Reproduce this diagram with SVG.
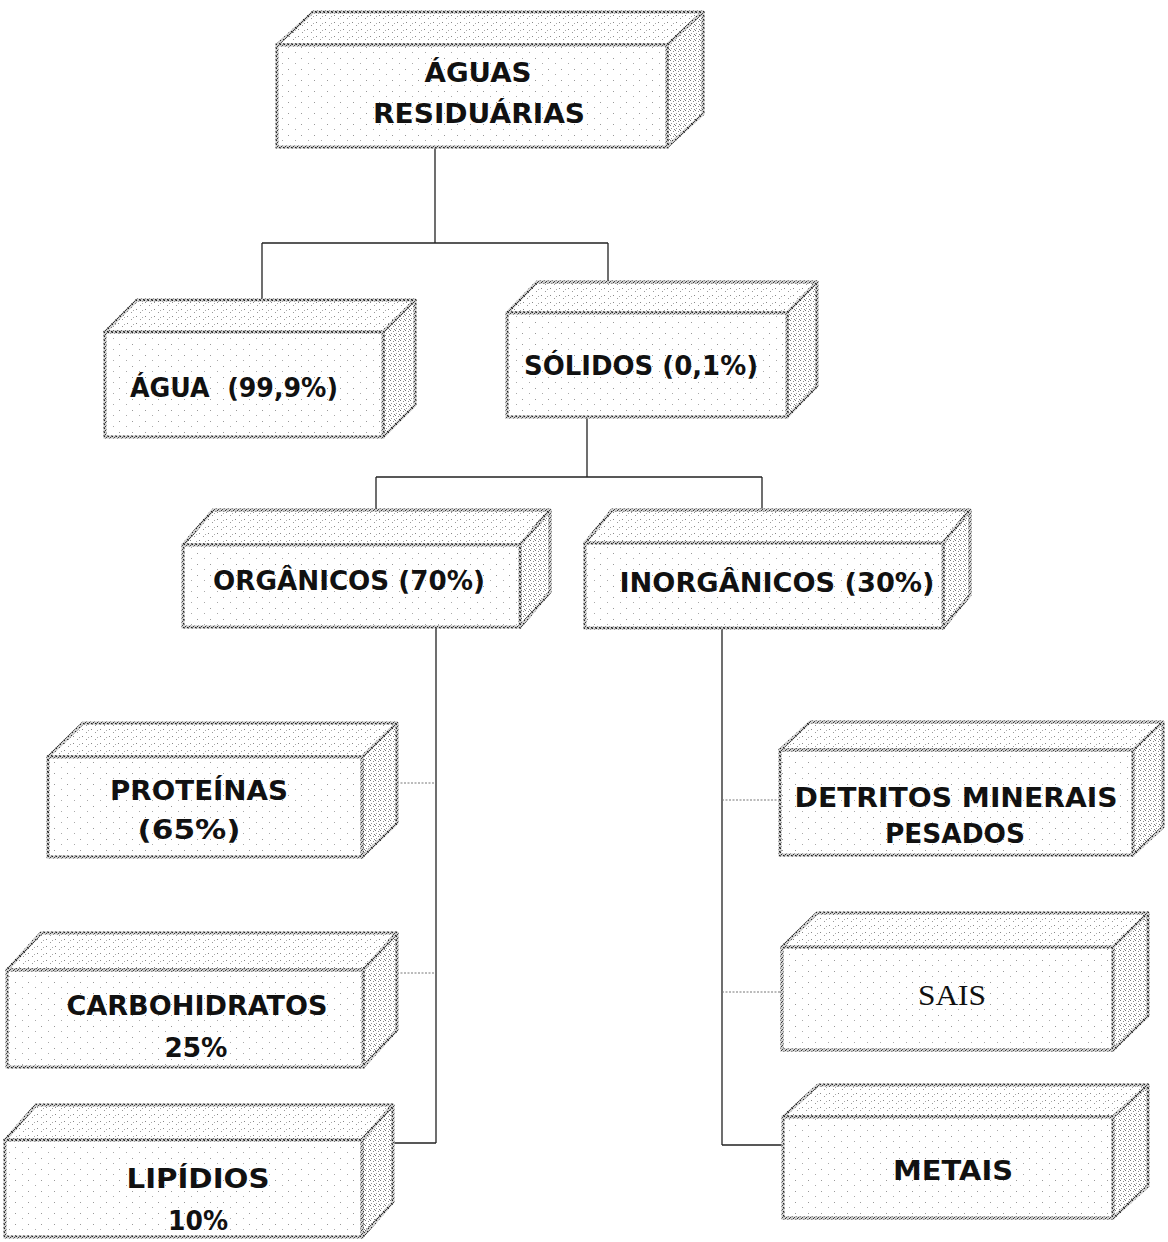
<svg xmlns="http://www.w3.org/2000/svg" width="1168" height="1242" viewBox="0 0 1168 1242">
<style>
.front{fill:url(#lite);stroke:url(#edge);stroke-width:3}
.top{fill:url(#mid);stroke:url(#edge);stroke-width:3;stroke-linejoin:round}
.side{fill:url(#dense);stroke:url(#edge);stroke-width:3;stroke-linejoin:round}
.t{font-family:"DejaVu Sans","Liberation Sans",sans-serif;font-size:27px;font-weight:bold;fill:#111;text-anchor:middle}
.s{font-family:"Liberation Serif",serif;font-size:30px;fill:#111;text-anchor:middle}
.ln{fill:none;stroke:#222;stroke-width:1.3}
.br{fill:none;stroke:#777;stroke-width:1;stroke-dasharray:2 1.5}
</style>
<defs>
<pattern id="lite" width="13" height="11" patternUnits="userSpaceOnUse">
<rect width="13" height="11" fill="#fff"/>
<rect x="2" y="3" width="1" height="1" fill="#999"/>
<rect x="9" y="8" width="1" height="1" fill="#aaa"/>
</pattern>
<pattern id="mid" width="9" height="7" patternUnits="userSpaceOnUse">
<rect width="9" height="7" fill="#fff"/>
<rect x="1" y="1" width="1" height="1" fill="#888"/>
<rect x="5" y="4" width="1" height="1" fill="#999"/>
<rect x="7" y="2" width="1" height="1" fill="#aaa"/>
</pattern>
<pattern id="dense" width="5" height="5" patternUnits="userSpaceOnUse">
<rect width="5" height="5" fill="#fff"/>
<rect x="0" y="0" width="1" height="1" fill="#777"/>
<rect x="3" y="1" width="1" height="1" fill="#888"/>
<rect x="1" y="3" width="1" height="1" fill="#999"/>
<rect x="4" y="4" width="1" height="1" fill="#777"/>
</pattern>
<pattern id="edge" width="4" height="4" patternUnits="userSpaceOnUse">
<rect width="4" height="4" fill="#ccc"/>
<rect x="0" y="0" width="1" height="1" fill="#222"/>
<rect x="2" y="1" width="1" height="1" fill="#444"/>
<rect x="1" y="2" width="1" height="1" fill="#333"/>
<rect x="3" y="3" width="1" height="1" fill="#222"/>
<rect x="3" y="0" width="1" height="1" fill="#777"/>
<rect x="0" y="3" width="1" height="1" fill="#666"/>
</pattern>
</defs>

<g id="connectors">
<path class="ln" d="M435,147 V243 M262,243 H608 M262,243 V300 M608,243 V282"/>
<path class="ln" d="M587,417 V477 M376,477 H762 M376,477 V510 M762,477 V510"/>
<path class="ln" d="M436,627 V1143 M393,1143 H436"/>
<path class="br" d="M397,783 H436 M397,973 H436"/>
<path class="ln" d="M722,628 V1145 M722,1145 H783"/>
<path class="br" d="M722,800 H780 M722,992 H782"/>
</g>

<g id="aguas-residuarias">
<polygon class="top" points="277,45 313,12 703,12 667,45"/>
<polygon class="side" points="667,45 703,12 703,114 667,147"/>
<rect class="front" x="277" y="45" width="390" height="102"/>
<text class="t" x="478" y="82" textLength="107" lengthAdjust="spacingAndGlyphs">ÁGUAS</text>
<text class="t" x="479" y="123" textLength="212" lengthAdjust="spacingAndGlyphs">RESIDUÁRIAS</text>
</g>

<g id="agua">
<polygon class="top" points="105,332 137,300 415,300 383,332"/>
<polygon class="side" points="383,332 415,300 415,405 383,437"/>
<rect class="front" x="105" y="332" width="278" height="105"/>
<text class="t" x="234" y="397" textLength="208" lengthAdjust="spacingAndGlyphs" style="white-space:pre">ÁGUA  (99,9%)</text>
</g>

<g id="solidos">
<polygon class="top" points="507,313 537,282 817,282 787,313"/>
<polygon class="side" points="787,313 817,282 817,386 787,417"/>
<rect class="front" x="507" y="313" width="280" height="104"/>
<text class="t" x="641" y="375" textLength="234" lengthAdjust="spacingAndGlyphs">SÓLIDOS (0,1%)</text>
</g>

<g id="organicos">
<polygon class="top" points="183,545 213,510 550,510 520,545"/>
<polygon class="side" points="520,545 550,510 550,592 520,627"/>
<rect class="front" x="183" y="545" width="337" height="82"/>
<text class="t" x="349" y="590" textLength="272" lengthAdjust="spacingAndGlyphs">ORGÂNICOS (70%)</text>
</g>

<g id="inorganicos">
<polygon class="top" points="585,543 612,510 970,510 943,543"/>
<polygon class="side" points="943,543 970,510 970,595 943,628"/>
<rect class="front" x="585" y="543" width="358" height="85"/>
<text class="t" x="777" y="592" textLength="315" lengthAdjust="spacingAndGlyphs">INORGÂNICOS (30%)</text>
</g>

<g id="proteinas">
<polygon class="top" points="48,757 83,723 397,723 362,757"/>
<polygon class="side" points="362,757 397,723 397,823 362,857"/>
<rect class="front" x="48" y="757" width="314" height="100"/>
<text class="t" x="199" y="800" textLength="178" lengthAdjust="spacingAndGlyphs">PROTEÍNAS</text>
<text class="t" x="189" y="839" textLength="103" lengthAdjust="spacingAndGlyphs">(65%)</text>
</g>

<g id="detritos">
<polygon class="top" points="780,750 810,722 1163,722 1133,750"/>
<polygon class="side" points="1133,750 1163,722 1163,827 1133,855"/>
<rect class="front" x="780" y="750" width="353" height="105"/>
<text class="t" x="956" y="807" textLength="323" lengthAdjust="spacingAndGlyphs">DETRITOS MINERAIS</text>
<text class="t" x="955" y="843" textLength="140" lengthAdjust="spacingAndGlyphs">PESADOS</text>
</g>

<g id="carbohidratos">
<polygon class="top" points="7,970 41,933 397,933 363,970"/>
<polygon class="side" points="363,970 397,933 397,1030 363,1067"/>
<rect class="front" x="7" y="970" width="356" height="97"/>
<text class="t" x="197" y="1015" textLength="261" lengthAdjust="spacingAndGlyphs">CARBOHIDRATOS</text>
<text class="t" x="196" y="1057" textLength="63" lengthAdjust="spacingAndGlyphs">25%</text>
</g>

<g id="sais">
<polygon class="top" points="782,947 817,913 1148,913 1113,947"/>
<polygon class="side" points="1113,947 1148,913 1148,1016 1113,1050"/>
<rect class="front" x="782" y="947" width="331" height="103"/>
<text class="s" x="952" y="1005" textLength="68" lengthAdjust="spacingAndGlyphs">SAIS</text>
</g>

<g id="metais">
<polygon class="top" points="783,1117 818,1085 1148,1085 1113,1117"/>
<polygon class="side" points="1113,1117 1148,1085 1148,1186 1113,1218"/>
<rect class="front" x="783" y="1117" width="330" height="101"/>
<text class="t" x="953" y="1180" textLength="120" lengthAdjust="spacingAndGlyphs">METAIS</text>
</g>

<g id="lipidios">
<polygon class="top" points="5,1140 36,1105 393,1105 362,1140"/>
<polygon class="side" points="362,1140 393,1105 393,1202 362,1237"/>
<rect class="front" x="5" y="1140" width="357" height="97"/>
<text class="t" x="198" y="1188" textLength="143" lengthAdjust="spacingAndGlyphs">LIPÍDIOS</text>
<text class="t" x="198" y="1230" textLength="60" lengthAdjust="spacingAndGlyphs">10%</text>
</g>
</svg>
